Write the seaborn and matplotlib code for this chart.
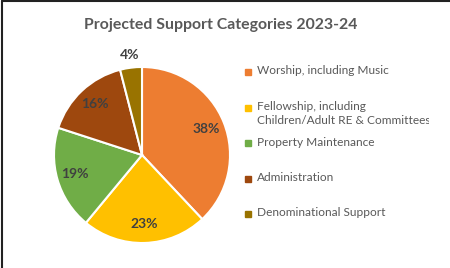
import matplotlib
matplotlib.use("Agg")
import matplotlib.pyplot as plt
from matplotlib.lines import Line2D
from matplotlib.transforms import Bbox, TransformedBbox
import seaborn as sns

# ======================================================
# Data
# ======================================================
categories = [
    "Worship, including Music",
    "Fellowship, including\nChildren/Adult RE & Committees",
    "Property Maintenance",
    "Administration",
    "Denominational Support",
]
shares = [38, 23, 19, 16, 4]
colors = ["#ED7D31", "#FFC000", "#70AD47", "#9E480E", "#997300"]
title = "Projected Support Categories 2023-24"

# ======================================================
# Style
# ======================================================
sns.set_theme(style="white")
plt.rcParams["font.family"] = ["Lato", "DejaVu Sans"]

W, H = 450, 268
fig = plt.figure(figsize=(W / 100, H / 100), dpi=100)
fig.patch.set_facecolor("white")

# pie axes: centre (142,155) px, radius 88 px
cx, cy, r = 142, 155, 88
ax = fig.add_axes([(cx - r) / W, (H - cy - r) / H, 2 * r / W, 2 * r / H])

wedges, texts, autotexts = ax.pie(
    shares, colors=colors, startangle=90, counterclock=False,
    autopct="%1.0f%%", pctdistance=0.79,
    wedgeprops={"edgecolor": "white", "linewidth": 1.5},
    textprops={"fontsize": 10, "fontweight": "bold", "color": "#404040"},
)
ax.set_xlim(-1, 1)
ax.set_ylim(-1, 1)
ax.set_aspect("equal")

# the small slice label sits outside the pie
x, y = autotexts[-1].get_position()
k = 1.14 / 0.79
autotexts[-1].set_position((x * k, y * k))

fig.text(221 / W, 1 - 25 / H, title, ha="center", va="center",
         fontsize=11.4, fontweight="bold", color="#595959")

# legend, drawn Excel-style on a fixed grid
clip = TransformedBbox(Bbox([[0, 0], [429 / W, 1]]), fig.transFigure)
for i, (lab, col) in enumerate(zip(categories, colors)):
    yc = 72 + i * 35.5
    fig.add_artist(Line2D([248 / W], [1 - yc / H], marker="s", markersize=4.2,
                          color=col, linestyle="", transform=fig.transFigure))
    t = fig.text(257 / W, 1 - (yc - 6.5) / H, lab, ha="left", va="top",
                 fontsize=8.6, color="#595959", linespacing=1.3)
    t.set_clip_box(clip)
    t.set_clip_on(True)

# chart border (top and left visible)
fig.add_artist(Line2D([2 / W, 1], [1 - 1 / H, 1 - 1 / H], color="#222222",
                      linewidth=1.5, transform=fig.transFigure))
fig.add_artist(Line2D([2 / W, 2 / W], [0, 1 - 1 / H], color="#222222",
                      linewidth=1.5, transform=fig.transFigure))

fig.savefig("out.png", dpi=100)
